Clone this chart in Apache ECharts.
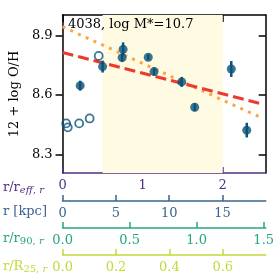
<!DOCTYPE html>
<html><head><meta charset="utf-8">
<script src="https://cdn.jsdelivr.net/npm/echarts@6/dist/echarts.min.js"></script>
<style>html,body{margin:0;padding:0;background:#fff}#c{width:277px;height:277px}</style>
</head><body><div id="c"></div>
<script>
// ---- data ----
const filledR   = [0.22, 0.50, 0.756, 0.744, 1.07, 1.143, 1.488, 1.65, 2.107, 2.30];
const filledOH  = [8.647, 8.743, 8.830, 8.788, 8.790, 8.718, 8.666, 8.538, 8.731, 8.423];
const filledErr = [0.025, 0.03, 0.035, 0.02, 0.015, 0.02, 0.025, 0.02, 0.04, 0.037];
const openR  = [0.045, 0.065, 0.207, 0.338, 0.451];
const openOH = [8.457, 8.437, 8.457, 8.482, 8.797];
const redFitR = [0, 2.48], redFitOH = [8.814, 8.556];
const orangeFitR = [0, 2.5], orangeFitOH = [8.944, 8.482];
const bandR = [0.5, 2.0];
const reffTicks = [0, 1, 2];
const kpcTicks = [0, 5, 10, 15];
const r90Ticks = [0.0, 0.5, 1.0, 1.5];
const r25Ticks = [0.0, 0.2, 0.4, 0.6];
const yTicks = [8.3, 8.6, 8.9];
const title = '4038, log M*=10.7';

const F = 'DejaVu Serif';
const PUR = '#4f3283', BLU = '#3a6491', TEA = '#27a583', YG = '#c3d93a';
const DOT = '#0a5379';

const chart = echarts.init(document.getElementById('c'), null, {renderer:'canvas'});
function xax(color, min, max, ticks, offset, dec, extra) {
  return Object.assign({
    type:'value', gridIndex:0, position:'bottom', offset:offset, min:min, max:max,
    axisLine:{show:true, onZero:false, lineStyle:{color:color, width:1.5}},
    axisTick:{show:true, inside:true, length:6, customValues:ticks, lineStyle:{color:color, width:1.5}},
    axisLabel:{show:true, customValues:ticks, margin:6, color:color, fontFamily:F, fontSize:13,
      formatter:v=>v.toFixed(dec)},
    splitLine:{show:false}
  }, extra||{});
}
const option = {
  animation:false,
  grid:{left:58, right:11, top:15, bottom:104, containLabel:false},
  xAxis:[
    xax(PUR, 0, 2.537, reffTicks, 0, 0),
    xax(BLU, 0, 19.05, kpcTicks, 28, 0),
    xax(TEA, 0, 1.515, r90Ticks, 55, 1),
    xax(YG, 0, 0.761, r25Ticks, 82, 1),
    {type:'value', position:'top', min:0, max:2.537,
      axisLine:{show:true, onZero:false, lineStyle:{color:'#000', width:1.5}},
      axisTick:{show:true, inside:true, length:7, customValues:reffTicks, lineStyle:{color:'#000', width:1.5}},
      axisLabel:{show:false}, splitLine:{show:false}}
  ],
  yAxis:[
    {type:'value', min:8.207, max:9.003, position:'left',
      name:'12 + log O/H', nameLocation:'middle', nameGap:40, nameRotate:90,
      nameTextStyle:{fontFamily:F, fontSize:13, color:'#000'},
      axisLine:{show:true, onZero:false, lineStyle:{color:'#000', width:1.5}},
      axisTick:{show:true, inside:false, length:7, customValues:yTicks, lineStyle:{color:'#000', width:1.5}},
      axisLabel:{show:true, customValues:yTicks, margin:10, color:'#000', fontFamily:F, fontSize:13, formatter:v=>v.toFixed(1)},
      splitLine:{show:false}},
    {type:'value', min:8.207, max:9.003, position:'right',
      axisLine:{show:true, onZero:false, lineStyle:{color:'#000', width:1.5}},
      axisTick:{show:true, inside:true, length:7, customValues:yTicks, lineStyle:{color:'#000', width:1.5}},
      axisLabel:{show:false}, splitLine:{show:false}}
  ],
  series:[
    {type:'line', xAxisIndex:0, yAxisIndex:0, data:[], silent:true,
      markArea:{silent:true, itemStyle:{color:'#fffae2'},
        data:[[{xAxis:bandR[0]},{xAxis:bandR[1]}]]}},
    {type:'line', xAxisIndex:0, yAxisIndex:0, symbol:'none', silent:true, z:3,
      data:orangeFitR.map((r,i)=>[r, orangeFitOH[i]]),
      lineStyle:{color:'#ffa445', width:3, type:[3,5.5]}},
    {type:'line', xAxisIndex:0, yAxisIndex:0, symbol:'none', silent:true, z:3,
      data:redFitR.map((r,i)=>[r, redFitOH[i]]),
      lineStyle:{color:'#ec3a2c', width:3, type:[11,5]}},
    {type:'custom', xAxisIndex:0, yAxisIndex:0, z:4,
      data:filledR.map((r,i)=>[r, filledOH[i]-filledErr[i], filledOH[i]+filledErr[i]]),
      encode:{x:0, y:[1,2]},
      renderItem:(params, api)=>{
        const a = api.coord([api.value(0), api.value(1)]);
        const b = api.coord([api.value(0), api.value(2)]);
        return {type:'line', shape:{x1:a[0], y1:a[1], x2:b[0], y2:b[1]},
          style:{stroke:DOT, lineWidth:2.5}};
      }},
    {type:'scatter', xAxisIndex:0, yAxisIndex:0, z:5, symbol:'circle', symbolSize:9,
      data:filledR.map((r,i)=>[r, filledOH[i]]), itemStyle:{color:DOT}},
    {type:'scatter', xAxisIndex:0, yAxisIndex:0, z:5, symbol:'circle', symbolSize:8,
      data:openR.map((r,i)=>[r, openOH[i]]),
      itemStyle:{color:'rgba(0,0,0,0)', borderColor:DOT, borderWidth:1.8}}
  ],
  graphic:[
    {type:'text', left:68, top:18, z:10, style:{text:title, font:'13px "DejaVu Serif"', fill:'#000'}},
    {type:'text', x:3, y:180, z:10, style:{text:'r/r{si|eff, r}', font:'13px "DejaVu Serif"', fill:PUR,
      rich:{si:{fontFamily:F, fontSize:10, fontStyle:'italic', fill:PUR, padding:[5,0,0,0]}}}},
    {type:'text', x:3, y:205, z:10, style:{text:'r [kpc]', font:'13px "DejaVu Serif"', fill:BLU}},
    {type:'text', x:3, y:231, z:10, style:{text:'r/r{s|90, }{si|r}', font:'13px "DejaVu Serif"', fill:TEA,
      rich:{s:{fontFamily:F, fontSize:10, fill:TEA, padding:[5,0,0,0]}, si:{fontFamily:F, fontSize:10, fontStyle:'italic', fill:TEA, padding:[5,0,0,0]}}}},
    {type:'text', x:3, y:259, z:10, style:{text:'r/R{s|25, }{si|r}', font:'13px "DejaVu Serif"', fill:YG,
      rich:{s:{fontFamily:F, fontSize:10, fill:YG, padding:[5,0,0,0]}, si:{fontFamily:F, fontSize:10, fontStyle:'italic', fill:YG, padding:[5,0,0,0]}}}}
  ]
};
chart.setOption(option);
</script></body></html>
